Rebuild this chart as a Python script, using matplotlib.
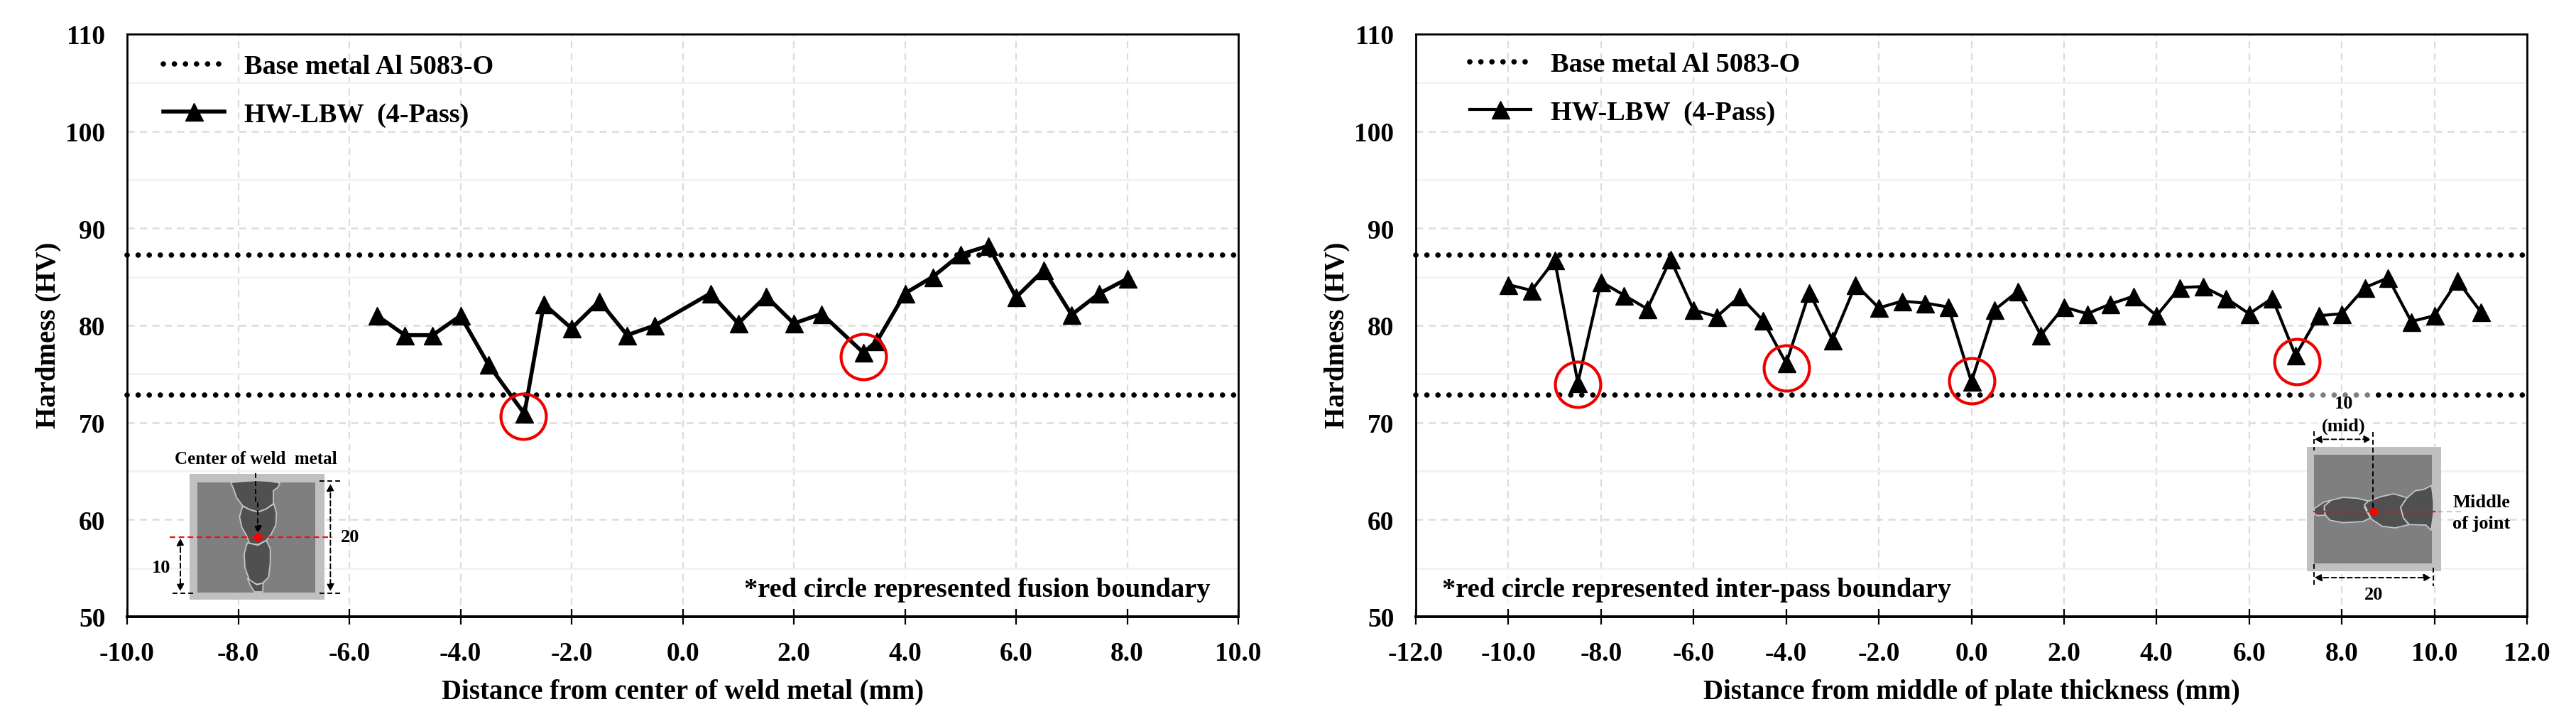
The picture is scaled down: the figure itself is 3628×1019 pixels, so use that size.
import matplotlib
matplotlib.use("Agg")
import matplotlib.pyplot as plt
from matplotlib.patches import Rectangle, Polygon

plt.rcParams['font.family'] = ['Liberation Serif', 'DejaVu Serif']
plt.rcParams['font.weight'] = 'bold'
plt.rcParams['axes.labelweight'] = 'bold'

W, H = 3628, 1020

base_metal = [87.25, 72.8]

x_left = [-5.5, -5, -4.5, -4, -3.5, -2.85, -2.5, -2, -1.5, -1, -0.5, 0.5, 1, 1.5, 2, 2.5,
          3.25, 3.5, 4, 4.5, 5, 5.5, 6, 6.5, 7, 7.5, 8]
y_left = [81.0, 79.0, 79.0, 81.0, 76.0, 70.9, 82.2, 79.7, 82.5, 79.0, 80.0, 83.3, 80.2, 83.0, 80.2, 81.2,
          77.2, 78.4, 83.3, 85.0, 87.3, 88.2, 82.9, 85.7, 81.1, 83.3, 84.8]
circle_x_left = [-2.87, 3.25]
circle_y_left = [70.6, 76.8]

x_right = [-10, -9.5, -9, -8.5, -8, -7.5, -7, -6.5, -6, -5.5, -5, -4.5, -4, -3.5, -3, -2.5, -2, -1.5, -1, -0.5,
           0, 0.5, 1, 1.5, 2, 2.5, 3, 3.5, 4, 4.5, 5, 5.5, 6, 6.5, 7, 7.5, 8, 8.5, 9, 9.5, 10, 10.5, 11]
y_right = [84.2, 83.6, 86.7, 74.1, 84.5, 83.1, 81.7, 86.8, 81.6, 80.9, 83.0, 80.5, 76.1, 83.4, 78.5, 84.2, 81.8, 82.5, 82.3, 81.9,
           74.2, 81.6, 83.5, 79.0, 81.9, 81.2, 82.2, 83.0, 81.0, 83.9, 84.0, 82.8, 81.2, 82.8, 76.9, 81.0, 81.2, 83.9, 84.9, 80.4, 81.0, 84.6, 81.4]
circle_x_right = [-8.5, -4, 0, 7.03]
circle_y_right = [73.9, 75.6, 74.3, 76.3]

y_ticks = [50, 60, 70, 80, 90, 100, 110]
y_minor = [55, 65, 75, 85, 95, 105]
x_ticks_left = [-10, -8, -6, -4, -2, 0, 2, 4, 6, 8, 10]
x_ticks_right = [-12, -10, -8, -6, -4, -2, 0, 2, 4, 6, 8, 10, 12]


def make_axes(fig, left, right, top, bottom):
    return fig.add_axes([left / W, 1 - bottom / H, (right - left) / W, (bottom - top) / H])


def draw_panel(ax, x, y, cx, cy, xticks, lw, xlabel, note, note_x, handle_left, legend_top, box):
    ax.set_xlim(xticks[0], xticks[-1])
    ax.set_ylim(50, 110)
    ax.set_xticks(xticks)
    ax.set_xticklabels([f"{t:.1f}" for t in xticks])
    ax.set_yticks(y_ticks)
    ax.set_yticks(y_minor, minor=True)
    ax.tick_params(axis='x', direction='inout', length=16.5, width=1.6, labelsize=27, pad=16)
    ax.tick_params(axis='y', which='both', length=0, labelsize=27, pad=22)
    for s in ['left', 'top', 'right']:
        ax.spines[s].set_linewidth(2)
    ax.spines['bottom'].set_linewidth(2.8)

    ax.grid(True, axis='y', which='major', color='#dcdcdc', lw=1.8, ls=(0, (4, 3)), zorder=0)
    ax.grid(True, axis='y', which='minor', color='#f1f1f1', lw=1.8, ls='-', zorder=0)
    ax.grid(True, axis='x', which='major', color='#dcdcdc', lw=1.6, ls=(0, (4.5, 3)), zorder=0)
    ax.set_axisbelow(True)

    # white block behind the legend text
    px = (xticks[-1] - xticks[0]) / 1565
    py = 60 / 820
    ax.add_patch(Rectangle((xticks[0] + (box[0]) * px, 110 - box[3] * py), (box[1] - box[0]) * px, (box[3] - box[2]) * py,
                           fc='white', ec='none', zorder=0.5))

    ax.plot(xticks[:1] + xticks[-1:], [base_metal[0]] * 2, color='black', lw=5.5, ls=(0, (0.01, 2.03)),
            dash_capstyle='round', zorder=2, label='Base metal Al 5083-O', clip_on=False)
    ax.plot(xticks[:1] + xticks[-1:], [base_metal[1]] * 2, color='black', lw=5.5, ls=(0, (0.01, 2.03)),
            dash_capstyle='round', zorder=2, clip_on=False)
    ax.plot(x, y, color='black', lw=lw, marker='^', ms=18, zorder=3, label='HW-LBW  (4-Pass)')
    ax.plot(cx, cy, ls='none', marker='o', ms=46, mfc='none', mec='#ee0000', mew=3, zorder=4)

    ax.legend(loc='upper left', bbox_to_anchor=(handle_left / 1565, 1 - legend_top / 820), frameon=False, fontsize=27.5,
              handlelength=2.25, handletextpad=0.73, labelspacing=0.85, borderpad=0, borderaxespad=0)

    ax.set_xlabel(xlabel, fontsize=28, labelpad=13)
    ax.set_ylabel('Hardmess (HV)', fontsize=28)
    ax.yaxis.set_label_coords(-93 / 1565, 0.484)
    ax.text(note_x / 1565, 29 / 820, note, transform=ax.transAxes, fontsize=27.7, va='baseline', ha='left', zorder=5,
            bbox=dict(fc='white', ec='none', alpha=0.8, pad=3))


def zoomed(points, ox, oy):
    return [(ox + a / 3, oy + b / 3) for a, b in points]


def dash(ov, points, ox, oy, color='black', lw=1.4, alpha=1.0):
    pts = zoomed(points, ox, oy)
    ov.plot([p[0] for p in pts], [p[1] for p in pts], color=color, lw=lw, ls=(0, (3.5, 2.2)), alpha=alpha)


def arrow(ov, a, b, ox, oy, style='<|-|>'):
    pa, pb = zoomed([a, b], ox, oy)
    ov.annotate('', xy=pb, xytext=pa, arrowprops=dict(arrowstyle=style, color='black', lw=1.4, ls=(0, (3.5, 2.2)),
                                                     mutation_scale=15, shrinkA=0, shrinkB=0))


def sketch(ov, outer, inner, welds, ox, oy):
    for box, col in [(outer, '#c0c0c0'), (inner, '#7f7f7f')]:
        a, b = zoomed([box[:2], box[2:]], ox, oy)
        ov.add_patch(Rectangle(a, b[0] - a[0], b[1] - a[1], fc=col, ec='none'))
    for w in welds:
        ov.add_patch(Polygon(zoomed(w, ox, oy), closed=True, fc='#505050', ec='#c4c4c4', lw=1.3))


fig = plt.figure(figsize=(W / 100, H / 100), dpi=100, facecolor='white')

ax1 = make_axes(fig, 179, 1744, 49, 869)
draw_panel(ax1, x_left, y_left, circle_x_left, circle_y_left, x_ticks_left, 4.0,
           'Distance from center of weld metal (mm)', '*red circle represented fusion boundary', 869, 51, 28,
           (141, 553, 4, 148))

ax2 = make_axes(fig, 1994, 3559, 49, 869)
draw_panel(ax2, x_right, y_right, circle_x_right, circle_y_right, x_ticks_right, 3.0,
           'Distance from middle of plate thickness (mm)', '*red circle represented inter-pass boundary', 37, 76, 25,
           (168, 578, 4, 141))

# welded joint sketches, drawn in picture pixels
ov = fig.add_axes([0, 0, 1, 1], facecolor='none')
ov.set_xlim(0, W)
ov.set_ylim(H, 0)
ov.axis('off')

ox, oy = 210, 630
sketch(ov, (170, 115, 740, 645), (205, 150, 702, 615), [
    [(345, 150), (400, 145), (460, 142), (510, 145), (552, 152), (545, 170), (525, 185), (525, 240), (495, 262),
     (460, 275), (425, 265), (395, 248), (370, 215), (358, 180)],
    [(395, 250), (425, 265), (460, 275), (495, 262), (527, 240), (538, 280), (535, 330), (515, 370), (495, 395),
     (460, 412), (425, 408), (412, 375), (392, 340), (382, 295)],
    [(415, 405), (460, 415), (495, 395), (512, 430), (512, 490), (505, 550), (480, 575), (455, 580), (425, 565),
     (405, 510), (402, 450)],
    [(415, 555), (455, 582), (482, 575), (480, 612), (445, 612), (428, 585)],
], ox, oy)
dash(ov, [(450, 110), (450, 238), (460, 238), (460, 340)], ox, oy)
arrow(ov, (460, 330), (460, 365), ox, oy, '-|>')
dash(ov, [(88, 380), (775, 380)], ox, oy, color='#ee1111', lw=1.6)
ov.plot(ox + 460 / 3, oy + 380 / 3, 'o', color='#ff0000', ms=7)
arrow(ov, (766, 155), (766, 610), ox, oy)
dash(ov, [(720, 145), (808, 145)], ox, oy)
dash(ov, [(720, 617), (808, 617)], ox, oy)
arrow(ov, (132, 385), (132, 610), ox, oy)
dash(ov, [(98, 617), (185, 617)], ox, oy)
ov.text(360, 647, 'Center of weld  metal', fontsize=18, ha='center', va='center')
ov.text(493, 757, '20', fontsize=19, ha='center', va='center')
ov.text(227, 800, '10', fontsize=19, ha='center', va='center')

ox, oy = 3220, 540
ov.add_patch(Rectangle((3253, 552), 90, 54, fc='white', ec='none', alpha=0.5))
sketch(ov, (87, 270, 653, 795), (118, 302, 614, 762), [
    [(118, 530), (160, 503), (190, 495), (160, 530), (165, 558), (135, 560), (118, 555)],
    [(160, 520), (190, 495), (240, 483), (300, 487), (345, 498), (330, 525), (355, 570), (325, 585), (240, 590),
     (185, 580), (165, 558)],
    [(330, 515), (345, 500), (400, 480), (455, 468), (510, 485), (483, 525), (495, 570), (518, 598), (460, 612),
     (405, 605), (360, 575)],
    [(483, 525), (510, 485), (545, 455), (580, 450), (614, 433), (622, 500), (622, 550), (612, 622), (590, 600),
     (520, 598), (495, 570)],
], ox, oy)
arrow(ov, (118, 238), (360, 238), ox, oy)
dash(ov, [(118, 205), (118, 285)], ox, oy)
dash(ov, [(367, 208), (367, 540)], ox, oy)
arrow(ov, (118, 822), (612, 822), ox, oy)
dash(ov, [(118, 765), (118, 858)], ox, oy)
dash(ov, [(620, 780), (620, 858)], ox, oy)
dash(ov, [(115, 544), (640, 544)], ox, oy, color='#ee1111', lw=1.6)
dash(ov, [(640, 544), (740, 544)], ox, oy, color='#ee1111', lw=1.6, alpha=0.3)
ov.plot(ox + 370 / 3, oy + 543 / 3, 'o', color='#ff0000', ms=7)
ov.text(3301, 569, '10', fontsize=19, ha='center', va='center')
ov.text(3301, 600, '(mid)', fontsize=19, ha='center', va='center')
ov.text(3343, 838, '20', fontsize=19, ha='center', va='center')
ov.text(3495, 708, 'Middle', fontsize=19, ha='center', va='center')
ov.text(3495, 738, 'of joint', fontsize=19, ha='center', va='center')

fig.savefig('out.png', dpi=100)
